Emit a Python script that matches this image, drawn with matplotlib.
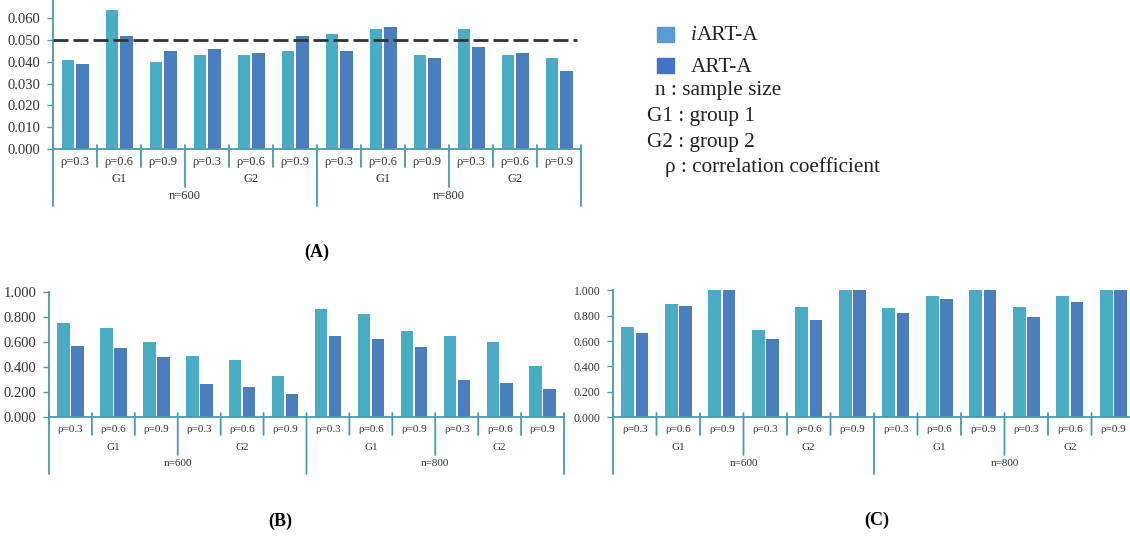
import numpy as np
import matplotlib
matplotlib.use('Agg')
import matplotlib.pyplot as plt
from matplotlib.patches import Rectangle
from matplotlib.transforms import ScaledTranslation

plt.rcParams['font.family'] = ['Liberation Serif', 'DejaVu Serif']

# categories
rho_labels = ['ρ=0.3', 'ρ=0.6', 'ρ=0.9'] * 4
group_labels = ['G1', 'G2', 'G1', 'G2']
n_labels = ['n=600', 'n=800']

# (A) type I error
a_iart = [0.041, 0.064, 0.040, 0.043, 0.043, 0.045, 0.053, 0.055, 0.043, 0.055, 0.043, 0.042]
a_art = [0.039, 0.052, 0.045, 0.046, 0.044, 0.052, 0.045, 0.056, 0.042, 0.047, 0.044, 0.036]
# (B) power
b_iart = [0.757, 0.717, 0.600, 0.492, 0.456, 0.328, 0.866, 0.826, 0.692, 0.648, 0.603, 0.411]
b_art = [0.570, 0.552, 0.480, 0.261, 0.243, 0.187, 0.648, 0.624, 0.560, 0.299, 0.272, 0.221]
# (C) power
c_iart = [0.713, 0.893, 1.000, 0.687, 0.869, 1.000, 0.862, 0.958, 1.000, 0.866, 0.953, 1.000]
c_art = [0.666, 0.875, 1.000, 0.614, 0.770, 1.000, 0.825, 0.932, 1.000, 0.793, 0.906, 1.000]

light = '#4bacc6'
dark = '#4a7ebd'
axcol = '#4a9ab4'
txtcol = '#333333'

W, H = 1130, 541
fig = plt.figure(figsize=(W / 100, H / 100), dpi=100)


def make_ax(x0, x1, ytop, y0):
    return fig.add_axes([x0 / W, 1 - y0 / H, (x1 - x0) / W, (y0 - ytop) / H])


def panel(ax, v1, v2, ymax, ticks, tfs, cfs):
    x = np.arange(len(v1))
    ax.bar(x + 0.34, v1, width=0.29, color=light)
    ax.bar(x + 0.665, v2, width=0.29, color=dark)
    ax.set_xlim(0, 12)
    ax.set_ylim(0, ymax)
    ax.set_yticks(ticks)
    ax.set_yticklabels(['%.3f' % t for t in ticks], fontsize=tfs, color=txtcol)
    ax.set_xticks([])
    for s in ['top', 'right', 'bottom', 'left']:
        ax.spines[s].set_visible(False)
    ax.tick_params(axis='y', length=4, width=1, color=axcol, pad=5)
    ax.axhline(0, color=axcol, lw=1.3, clip_on=False)

    def down(dy):
        # x in data, y = axis line shifted down by dy pixels
        return ax.get_xaxis_transform() + ScaledTranslation(0, -dy / 100, fig.dpi_scale_trans)

    # left spine
    ax.plot([0, 0], [0, 1], color=axcol, lw=1.3, transform=ax.get_xaxis_transform(), clip_on=False)
    # separators below the axis, longer for G and n boundaries
    for b in range(13):
        if b % 6 == 0:
            L = 57
        elif b % 3 == 0:
            L = 38
        else:
            L = 18
        ax.annotate('', xy=(b, 0), xycoords=down(L), xytext=(b, 0), textcoords=down(-4),
                    arrowprops=dict(arrowstyle='-', color=axcol, lw=1.3, shrinkA=0, shrinkB=0))
    for i, lab in enumerate(rho_labels):
        ax.text(i + 0.5, 0, lab, transform=down(13), ha='center', va='center',
                fontsize=cfs, color=txtcol)
    for i, lab in enumerate(group_labels):
        ax.text(i * 3 + 1.5, 0, lab, transform=down(30), ha='center', va='center',
                fontsize=cfs, color=txtcol)
    for i, lab in enumerate(n_labels):
        ax.text(i * 6 + 3, 0, lab, transform=down(47), ha='center', va='center',
                fontsize=cfs, color=txtcol)


axA = make_ax(53, 581, 0, 149)
panel(axA, a_iart, a_art, 0.0685, np.arange(0, 0.061, 0.01), 10.5, 9)
axA.axhline(0.05, xmin=0, xmax=(577 - 53) / 528, color='#333333', lw=2, dashes=(5.4, 1.8))

axB = make_ax(49, 564, 292, 417)
panel(axB, b_iart, b_art, 1.003, np.arange(0, 1.01, 0.2), 10.5, 8)

axC = make_ax(613, 1135, 290, 417)
panel(axC, c_iart, c_art, 1.003, np.arange(0, 1.01, 0.2), 8.5, 8)

# legend block
fig.add_artist(Rectangle((657 / W, 1 - 42 / H), 17 / W, 15 / H, color='#5b9bd5', transform=fig.transFigure))
fig.add_artist(Rectangle((657 / W, 1 - 73 / H), 17 / W, 15 / H, color='#4472c4', transform=fig.transFigure))
fs = 15.3
tc = '#222222'
fig.text(691 / W, 1 - 35 / H, 'i', fontsize=fs, style='italic', va='center', color=tc)
fig.text(697 / W, 1 - 35 / H, 'ART-A', fontsize=fs, va='center', color=tc)
fig.text(691 / W, 1 - 67 / H, 'ART-A', fontsize=fs, va='center', color=tc)
fig.text(655 / W, 1 - 91 / H, 'n : sample size', fontsize=fs, va='center', color=tc)
fig.text(647 / W, 1 - 117 / H, 'G1 : group 1', fontsize=fs, va='center', color=tc)
fig.text(647 / W, 1 - 143 / H, 'G2 : group 2', fontsize=fs, va='center', color=tc)
fig.text(665 / W, 1 - 167 / H, 'ρ : correlation coefficient', fontsize=fs, va='center', color=tc)

# panel captions
fig.text(317 / W, 1 - 252 / H, '(A)', fontsize=13, weight='bold', ha='center', va='center')
fig.text(280 / W, 1 - 521 / H, '(B)', fontsize=13, weight='bold', ha='center', va='center')
fig.text(877 / W, 1 - 520 / H, '(C)', fontsize=13, weight='bold', ha='center', va='center')

fig.savefig('out.png', dpi=100)
